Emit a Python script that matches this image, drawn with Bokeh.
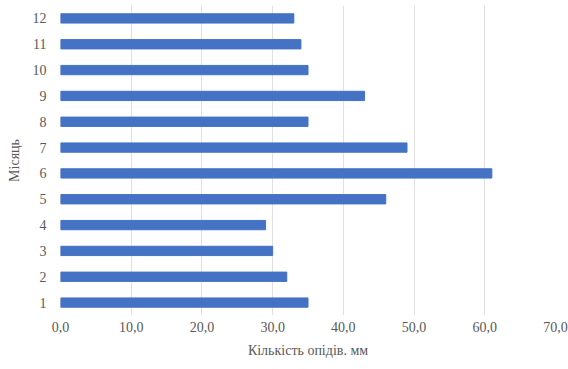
from bokeh.plotting import figure
from bokeh.models import FactorRange, Range1d, FixedTicker
from bokeh.embed import file_html
from bokeh.resources import INLINE

months = ["1", "2", "3", "4", "5", "6", "7", "8", "9", "10", "11", "12"]
precip = [35, 32, 30, 29, 46, 61, 49, 35, 43, 35, 34, 33]
x_ticks = [0, 10, 20, 30, 40, 50, 60, 70]
x_tick_labels = ["0,0", "10,0", "20,0", "30,0", "40,0", "50,0", "60,0", "70,0"]

FONT = "Liberation Serif"
GREY = "#595959"

p = figure(width=568, height=369, output_backend="svg", toolbar_location=None,
           y_range=FactorRange(*months, range_padding=0),
           x_range=Range1d(0, 70))
p.min_border_left = 60
p.min_border_right = 13
p.min_border_top = 5
p.min_border_bottom = 54
p.outline_line_color = None
p.background_fill_color = "white"
p.border_fill_color = "white"

p.hbar(y=months, right=precip, left=0, height=0.36, color="#4472C4")

p.xaxis.ticker = FixedTicker(ticks=x_ticks)
p.xaxis.major_label_overrides = {t: l for t, l in zip(x_ticks, x_tick_labels)}
p.xgrid.ticker = FixedTicker(ticks=x_ticks)
p.xgrid.grid_line_color = "#e0e0e0"
p.ygrid.grid_line_color = None

for ax in (p.xaxis[0], p.yaxis[0]):
    ax.axis_line_color = None
    ax.major_tick_line_color = None
    ax.minor_tick_line_color = None
    ax.major_tick_in = 0
    ax.major_tick_out = 0
    ax.major_label_text_font = FONT
    ax.major_label_text_font_size = "14px"
    ax.major_label_text_color = GREY
    ax.axis_label_text_font = FONT
    ax.axis_label_text_font_size = "14px"
    ax.axis_label_text_color = GREY
    ax.axis_label_text_font_style = "normal"

p.xaxis.axis_label = "Кількість опідів. мм"
p.yaxis.axis_label = "Місяць"
p.xaxis.major_label_standoff = 6
p.xaxis.axis_label_standoff = 8
p.yaxis.major_label_standoff = 14
p.yaxis.axis_label_standoff = 8

open("out.html", "w").write(file_html(p, INLINE))
